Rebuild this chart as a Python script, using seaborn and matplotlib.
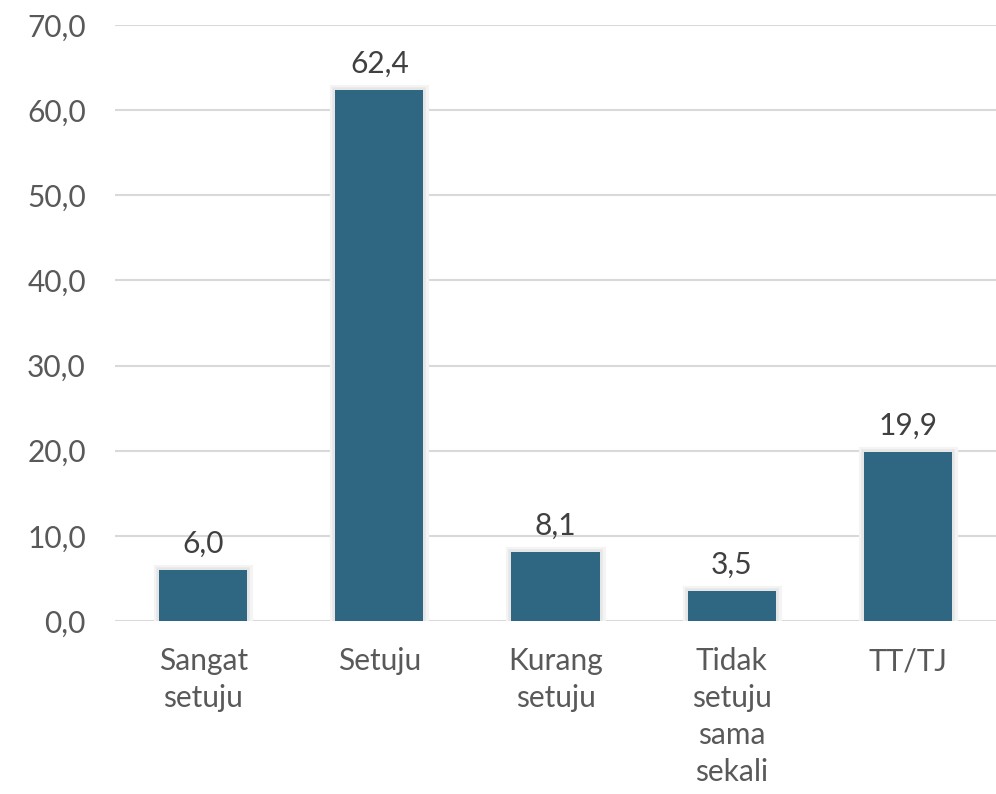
import matplotlib
matplotlib.use("Agg")
import matplotlib.pyplot as plt
import matplotlib.patheffects as pe
import seaborn as sns
import pandas as pd

categories = ["Sangat\nsetuju", "Setuju", "Kurang\nsetuju", "Tidak\nsetuju\nsama\nsekali", "TT/TJ"]
values = [6.0, 62.4, 8.1, 3.5, 19.9]
yticks = [0, 10, 20, 30, 40, 50, 60, 70]

sns.set_theme(style="white")
plt.rcParams["font.family"] = ["Lato", "DejaVu Sans"]

text_color = "#595959"
bar_color = "#2F6682"

df = pd.DataFrame({"kategori": categories, "persen": values})

fig = plt.figure(figsize=(9.96, 7.94), dpi=100)
ax = fig.add_axes([0.1155, 0.2179, 0.8845, 0.7506])

sns.barplot(data=df, x="kategori", y="persen", color=bar_color, width=0.5,
            saturation=1, ax=ax, zorder=3)

# soft grey halo around each bar
for patch in ax.patches:
    patch.set_edgecolor("none")
    patch.set_path_effects([
        pe.withStroke(linewidth=8, foreground="#f4f4f4"),
        pe.withStroke(linewidth=4, foreground="#e6e6e6"),
        pe.Normal(),
    ])

for patch, v in zip(ax.patches, values):
    ax.text(patch.get_x() + patch.get_width() / 2, v + 1.4, f"{v:.1f}".replace(".", ","),
            ha="center", va="bottom", fontsize=21.5, color="#404040", zorder=4)

ax.set_ylim(0, 70)
ax.set_yticks(yticks)
ax.set_yticklabels([f"{t:.1f}".replace(".", ",") for t in yticks])
ax.yaxis.grid(True, color="#d9d9d9", linewidth=1.5, zorder=0)
ax.set_axisbelow(True)
ax.tick_params(axis="both", length=0, labelsize=21.5, colors=text_color)
ax.tick_params(axis="y", pad=21)
ax.tick_params(axis="x", pad=19)
for lbl in ax.get_xticklabels():
    lbl.set_linespacing(1.38)
ax.set_xlabel("")
ax.set_ylabel("")
for s in ax.spines.values():
    s.set_visible(False)

fig.savefig("out.png", dpi=100)
